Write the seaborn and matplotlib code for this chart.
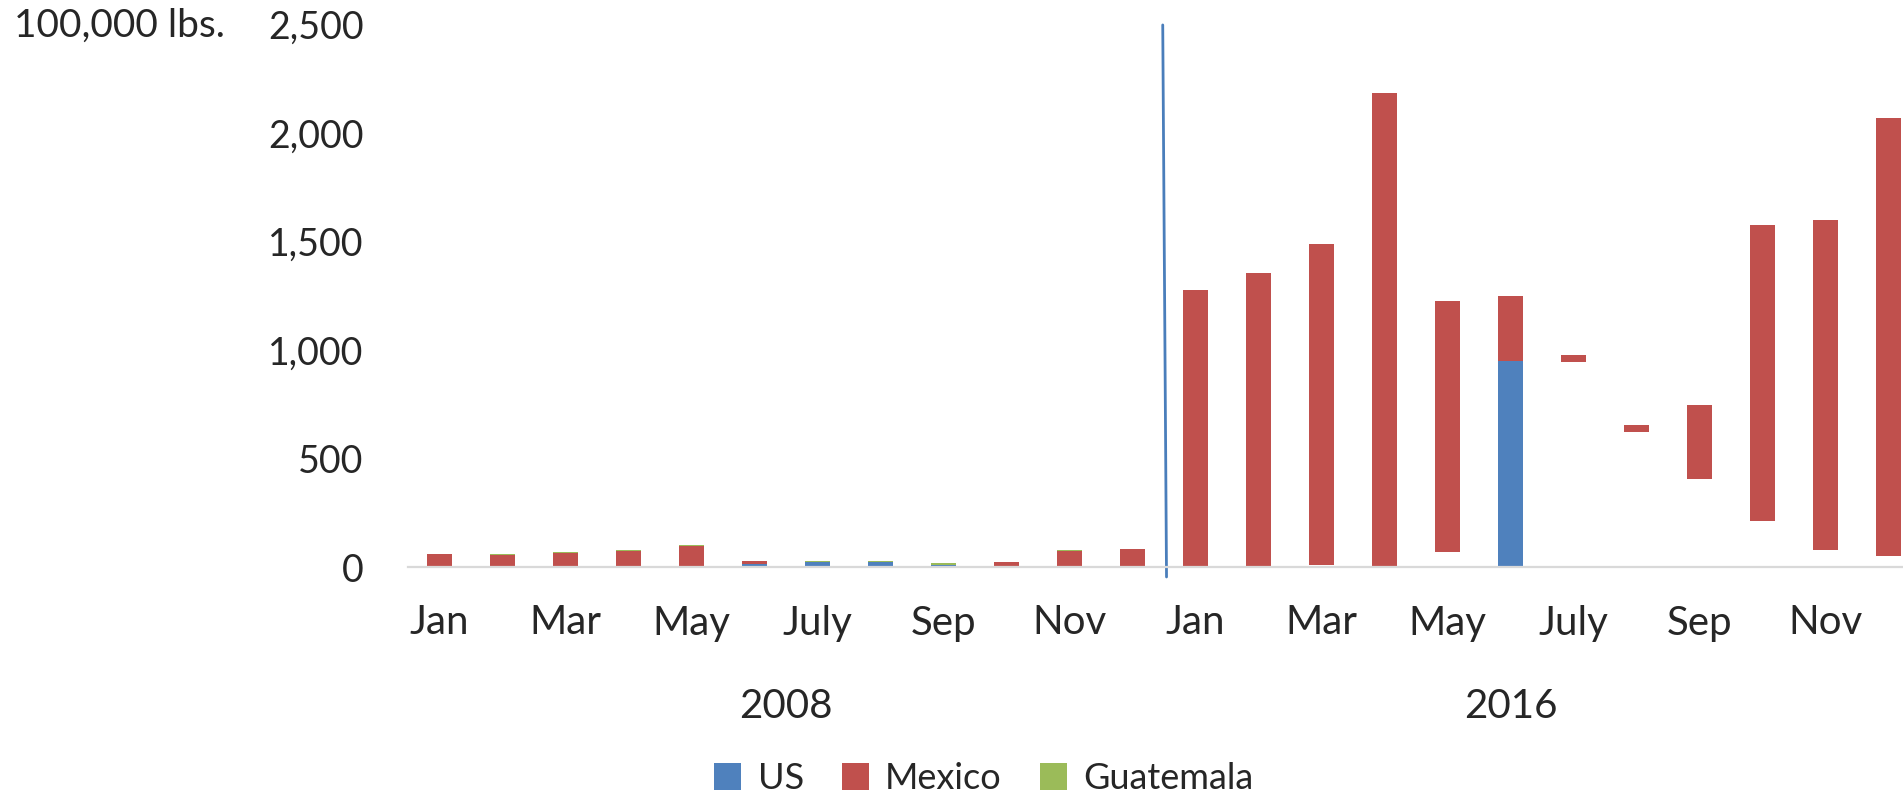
import numpy as np
import pandas as pd
import seaborn as sns
import matplotlib.pyplot as plt
import matplotlib.transforms as mtransforms
from matplotlib.patches import Patch

# values in 100,000 lbs.
months = ["Jan", "Feb", "Mar", "Apr", "May", "Jun", "Jul", "Aug", "Sep", "Oct", "Nov", "Dec"]
month_labels = ["Jan", "Mar", "May", "July", "Sep", "Nov"]
years = ["2008", "2016"]

us_2008 = [0, 0, 0, 0, 1, 12, 23, 21, 10, 4, 0, 0]
mexico_2008 = [59, 54, 64, 76, 96, 15, 0, 0, 0, 19, 74, 85]
guatemala_2008 = [0, 5, 5, 3, 4, 0, 6, 7, 9, 0, 3, 0]

# 2016 bars float on an unfilled series in the original chart
hidden_2016 = [0, 0, 9, 0, 70, 0, 945, 622, 405, 210, 78, 50]
us_2016 = [0, 0, 0, 0, 0, 950, 0, 0, 0, 0, 0, 0]
mexico_2016 = [1275, 1355, 1480, 2185, 1155, 300, 30, 33, 343, 1368, 1522, 2018]
guatemala_2016 = [0] * 12

colors = {"US": "#4F81BD", "Mexico": "#C0504D", "Guatemala": "#9BBB59"}

df = pd.DataFrame({
    "period": [f"{m} {y}" for y in years for m in months],
    "hidden": [0] * 12 + hidden_2016,
    "US": us_2008 + us_2016,
    "Mexico": mexico_2008 + mexico_2016,
    "Guatemala": guatemala_2008 + guatemala_2016,
})

sns.set_theme(style="white")
plt.rcParams["font.family"] = ["Lato", "DejaVu Sans"]

fig = plt.figure(figsize=(19.03, 7.97), dpi=100)
ax = fig.add_axes([408 / 1903, 230 / 797, 1512 / 1903, 542.5 / 797])

# stack the series on top of each other
bottom = df["hidden"].to_numpy(dtype=float)
for name in ["US", "Mexico", "Guatemala"]:
    sns.barplot(data=df, x="period", y=name, color=colors[name], saturation=1,
                width=0.39, bottom=bottom, errorbar=None, linewidth=0, ax=ax)
    bottom = bottom + df[name].to_numpy(dtype=float)

ax.set_xlim(-0.5, 23.5)
ax.set_ylim(0, 2500)
ax.set_xlabel("")
ax.set_ylabel("")

yt = np.arange(0, 2501, 500)
ax.set_yticks(yt)
ax.set_yticklabels([f"{v:,}" for v in yt], fontsize=27)
ax.tick_params(axis="y", length=0, pad=32)

ax.set_xticks(range(0, 24, 2))
ax.set_xticklabels(month_labels * 2, fontsize=29)
ax.tick_params(axis="x", length=0, pad=27)

for s in ["top", "left", "right"]:
    ax.spines[s].set_visible(False)
ax.spines["bottom"].set_color("#D9D9D9")
ax.spines["bottom"].set_linewidth(1.6)

# separator between the two years
ax.plot([11.48, 11.54], [2498, -46], color="#4A7EBB", lw=2, clip_on=False)

trans = mtransforms.blended_transform_factory(ax.transData, fig.transFigure)
for i, yr in enumerate(years):
    ax.text(5.5 + 11.5 * i, (797 - 718) / 797, yr, fontsize=29, ha="center",
            va="baseline", transform=trans)

fig.text(14 / 1903, (797 - 37) / 797, "100,000 lbs.", fontsize=28, va="baseline", ha="left")

handles = [Patch(facecolor=colors[n], edgecolor="none", label=n) for n in colors]
fig.legend(handles=handles, loc="center", bbox_to_anchor=(0.517, 0.0226), ncol=3,
           frameon=False, fontsize=26, handlelength=0.75, handleheight=0.78,
           handletextpad=0.45, columnspacing=1.05, borderpad=0)

fig.savefig("out.png", dpi=100)
